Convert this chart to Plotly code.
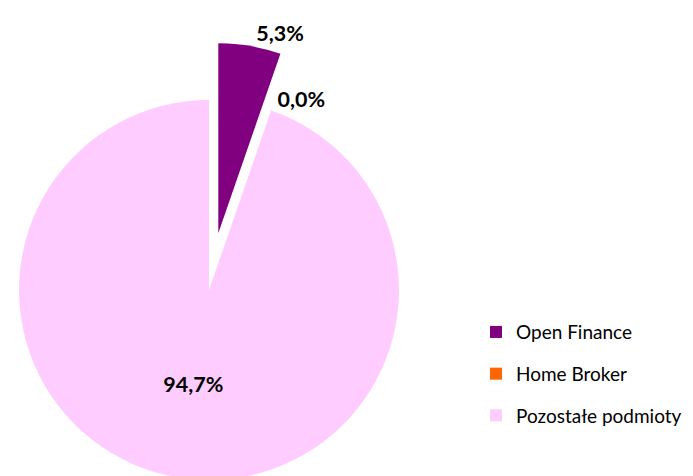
import plotly.graph_objects as go

labels = ["Open Finance", "Home Broker", "Pozostałe podmioty"]
values = [5.3, 0.0, 94.7]
colors = ["#800080", "#FF6600", "#FFCCFF"]
exploded = [True, False, False]

clear = "rgba(0,0,0,0)"
label_font = dict(family="Lato", size=21.5, color="#000000", weight="bold")

fig = go.Figure()

# body of the pie (non-exploded slices)
fig.add_trace(go.Pie(
    labels=labels, values=values, sort=False, direction="clockwise", rotation=0,
    marker=dict(colors=[clear if e else c for c, e in zip(colors, exploded)], line=dict(width=0)),
    texttemplate="%{percent:.1%}",
    textposition=["none", "outside", "inside"],
    insidetextorientation="horizontal",
    textfont=label_font,
    domain=dict(x=[0.0, 0.5801], y=[0.0084, 0.8067]),
    showlegend=False, hoverinfo="label+percent",
))

# exploded slice
fig.add_trace(go.Pie(
    labels=labels, values=values, sort=False, direction="clockwise", rotation=0,
    marker=dict(colors=[c if e else clear for c, e in zip(colors, exploded)], line=dict(width=0)),
    texttemplate="%{percent:.1%}",
    textposition=["outside" if e else "none" for e in exploded],
    textfont=label_font,
    domain=dict(x=[0.0, 0.6069], y=[0.1275, 0.9258]),
    showlegend=False, hoverinfo="label+percent",
))

# legend entries
for lab, col in zip(labels, colors):
    fig.add_trace(go.Scatter(
        x=[None], y=[None], mode="markers", name=lab, legendgroup=lab,
        marker=dict(symbol="square", size=12, color=col), hoverinfo="skip",
    ))

fig.update_layout(
    width=693, height=476,
    margin=dict(l=0, r=0, t=0, b=0, autoexpand=False),
    paper_bgcolor="white", plot_bgcolor="white",
    separators=", ",
    xaxis=dict(visible=False), yaxis=dict(visible=False),
    legend=dict(
        x=0.6753, y=0.359, xanchor="left", yanchor="top",
        font=dict(family="Lato", size=19, color="#000000"),
        tracegroupgap=14, traceorder="grouped", bgcolor="rgba(0,0,0,0)",
    ),
)

fig.write_html("out.html")
